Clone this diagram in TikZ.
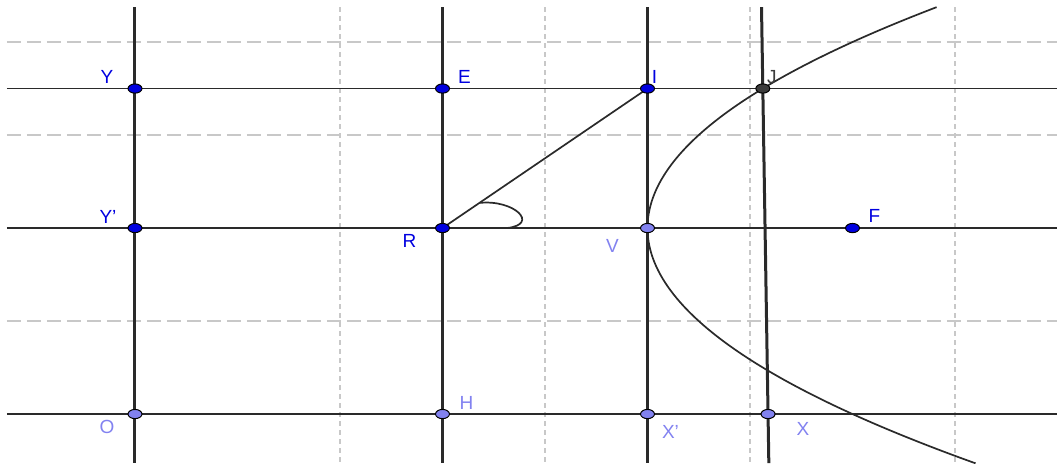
\documentclass[tikz,border=0pt]{standalone}
\usepackage{fontspec}
\setmainfont{Liberation Sans}
\usetikzlibrary{positioning,calc,shapes.geometric}
\definecolor{bleuP}{HTML}{0000E0}
\definecolor{bleuC}{HTML}{8282F0}
\definecolor{grisJ}{HTML}{3C3C3C}
\definecolor{grisL}{HTML}{C8C8C8}
\definecolor{trait}{HTML}{2A2A2A}
\tikzset{
  pnt/.style={ellipse, draw=black, line width=0.5pt, fill=#1,
              minimum width=7pt, minimum height=4.6pt, inner sep=0pt},
  etiq/.style={font=\fontsize{9.5}{11}\selectfont, text=#1, inner sep=0pt},
  grilleH/.style={draw=grisL, line width=0.7pt, dash pattern=on 7pt off 3pt},
  grilleV/.style={draw=grisL, line width=0.9pt, dash pattern=on 2.5pt off 2pt},
  droite/.style={draw=trait, line width=0.85pt},
  droiteV/.style={draw=trait, line width=1.5pt},
}

\begin{document}
\begin{tikzpicture}[x=51.25pt, y=46.5pt]
  \useasboundingbox (-1.317,-0.527) rectangle (8.995,4.452);
  \coordinate (hg) at (-1.249,4.376);
  \coordinate (bd) at (8.995,-0.527);
  % grille
  \foreach \y in {1,3,4}
    \draw[grilleH] (-1.249,\y) -- (8.995,\y);
  \foreach \x in {2,4,6,8}
    \draw[grilleV] (\x,4.376) -- (\x,-0.527);
  % points
  \coordinate (Y) at (0,3.5);
  \coordinate (E) at (3,3.5);
  \coordinate (I) at (5,3.5);
  \coordinate (J) at (6.125,3.5);
  \coordinate (Yp) at (0,2);
  \coordinate (R) at (3,2);
  \coordinate (V) at (5,2);
  \coordinate (F) at (7,2);
  \coordinate (O) at (0,0);
  \coordinate (H) at (3,0);
  \coordinate (Xp) at (5,0);
  \coordinate (X) at (6.176,0);
  % droites
  \draw[droite] (Y -| hg) -- (Y -| bd);
  \draw[droite] (Yp -| hg) -- (Yp -| bd);
  \draw[droite] (O -| hg) -- (O -| bd);
  \draw[droiteV] (Y |- hg) -- (O |- bd);
  \draw[droiteV] (E |- hg) -- (H |- bd);
  \draw[droiteV] (I |- hg) -- (Xp |- bd);
  \draw[droiteV] ($(X)!-0.151!(J)$) -- ($(X)!1.2503!(J)$);
  \draw[droite] (R) -- (I);
  % parabole
  \draw[droite] plot[domain=-2.53:2.376, samples=100, smooth] ({5+\x*\x/2},{2+\x});
  % angle
  \draw[droite] ($(R)!0.18!(I)$) .. controls ($(R)+(0.70,0.31)$)
    and ($(R)+(0.95,0.04)$) .. ($(R)+(0.63,0)$);
  % marques
  \node[pnt=bleuP] (mY) at (Y) {};
  \node[pnt=bleuP] (mE) at (E) {};
  \node[pnt=bleuP] (mI) at (I) {};
  \node[pnt=grisJ] (mJ) at (J) {};
  \node[pnt=bleuP] (mYp) at (Yp) {};
  \node[pnt=bleuP] (mR) at (R) {};
  \node[pnt=bleuC] (mV) at (V) {};
  \node[pnt=bleuP] (mF) at (F) {};
  \node[pnt=bleuC] (mO) at (O) {};
  \node[pnt=bleuC] (mH) at (H) {};
  \node[pnt=bleuC] (mXp) at (Xp) {};
  \node[pnt=bleuC] (mX) at (X) {};
  % etiquettes
  \node[etiq=bleuP, xshift=-14pt, yshift=6pt] (lY) at (Y) {Y};
  \node[etiq=bleuP, xshift=11pt, yshift=6pt] (lE) at (E) {E};
  \node[etiq=bleuP, xshift=3.5pt, yshift=6pt] (lI) at (I) {I};
  \node[etiq=grisJ, xshift=4.5pt, yshift=5.5pt] (lJ) at (J) {J};
  \node[etiq=bleuP, xshift=-13.5pt, yshift=5.5pt] (lYp) at (Yp) {Y'};
  \node[etiq=bleuP, xshift=-16.5pt, yshift=-6.5pt] (lR) at (R) {R};
  \node[etiq=bleuC, xshift=-17.5pt, yshift=-9pt] (lV) at (V) {V};
  \node[etiq=bleuP, xshift=11pt, yshift=6pt] (lF) at (F) {F};
  \node[etiq=bleuC, xshift=-14pt, yshift=-6.5pt] (lO) at (O) {O};
  \node[etiq=bleuC, xshift=12pt, yshift=5.5pt] (lH) at (H) {H};
  \node[etiq=bleuC, xshift=11.5pt, yshift=-9pt] (lXp) at (Xp) {X'};
  \node[etiq=bleuC, xshift=17.5pt, yshift=-7.5pt] (lX) at (X) {X};
\end{tikzpicture}
\end{document}
